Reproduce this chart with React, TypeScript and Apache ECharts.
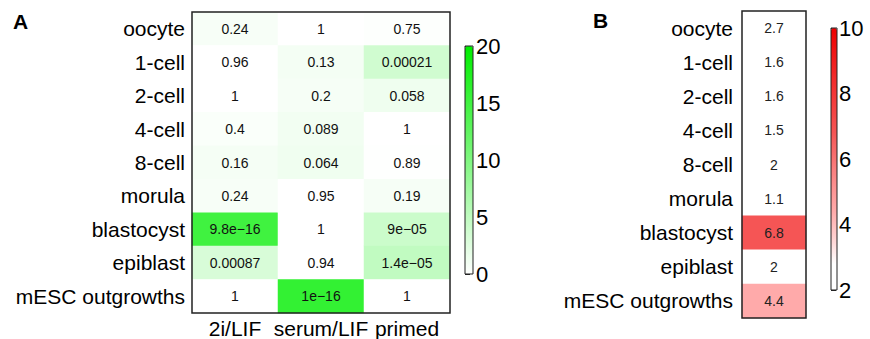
import React, { useEffect, useRef } from "react";
import * as echarts from "echarts";

const stages = ["oocyte", "1-cell", "2-cell", "4-cell", "8-cell", "morula", "blastocyst", "epiblast", "mESC outgrowths"];
const conditions = ["2i/LIF", "serum/LIF", "primed"];
const p2iLIF = [0.24, 0.96, 1, 0.4, 0.16, 0.24, 9.8e-16, 0.00087, 1];
const pSerumLIF = [1, 0.13, 0.2, 0.089, 0.064, 0.95, 1, 0.94, 1e-16];
const pPrimed = [0.75, 0.00021, 0.058, 1, 0.89, 0.19, 9e-05, 1.4e-05, 1];
const foldB = [2.7, 1.6, 1.6, 1.5, 2, 1.1, 6.8, 2, 4.4];
const scaleATicks = { min: 0, max: 20, interval: 5 };
const scaleBTicks = { min: 2, max: 10, interval: 2 };

const FONT = "Liberation Sans, Arial, sans-serif";

function fmtP(p: number): string {
  const s = Number(p.toPrecision(2));
  const expStr = s.toExponential();
  const [mant, ex] = expStr.split("e");
  const e = parseInt(ex, 10);
  const sci = mant + "e" + (e < 0 ? "-" : "+") + String(Math.abs(e)).padStart(2, "0");
  const sig = mant.replace(".", "").length;
  const dec = Math.max(0, sig - 1 - e);
  const fixed = s.toFixed(dec);
  const out = fixed.length <= sci.length ? fixed : sci;
  return out.replace(/-/g, "\u2212");
}

export default function App() {
  const ref = useRef<HTMLDivElement>(null);
  useEffect(() => {
    document.body.style.margin = "0";
    const chart = echarts.init(ref.current!, null, { renderer: "svg" });
    const cols = [p2iLIF, pSerumLIF, pPrimed];
    const dataA: any[] = [];
    cols.forEach((arr, xi) => {
      arr.forEach((p, yi) => {
        dataA.push([xi, yi, -Math.log10(p), p]);
      });
    });
    const dataB = foldB.map((v, yi) => [0, yi, v]);
    const catLabel = { fontSize: 21, color: "#000", fontFamily: FONT, interval: 0 };
    const option: any = {
      animation: false,
      graphic: [
        { type: "text", left: 13, top: 11, style: { text: "A", font: "bold 21px " + FONT, fill: "#000" } },
        { type: "text", left: 593, top: 10, style: { text: "B", font: "bold 21px " + FONT, fill: "#000" } },
      ],
      grid: [
        { left: 192, top: 12, width: 258, height: 301, show: true, borderColor: "#222", borderWidth: 1.5, backgroundColor: "transparent", z: 10 },
        { left: 742, top: 11, width: 64, height: 307, show: true, borderColor: "#222", borderWidth: 1.5, backgroundColor: "transparent", z: 10 },
        { left: 465, top: 46, width: 8, height: 228, show: true, borderColor: "#222", borderWidth: 1, backgroundColor: "transparent", z: 10 },
        { left: 831, top: 28, width: 6, height: 262, show: true, borderColor: "#222", borderWidth: 1, backgroundColor: "transparent", z: 10 },
      ],
      xAxis: [
        { gridIndex: 0, type: "category", data: conditions, position: "bottom", axisLine: { show: false }, axisTick: { show: false }, splitLine: { show: false }, axisLabel: { ...catLabel, margin: 5 } },
        { gridIndex: 1, type: "category", data: ["fold"], show: false },
        { gridIndex: 2, type: "value", show: false },
        { gridIndex: 3, type: "value", show: false },
      ],
      yAxis: [
        { gridIndex: 0, type: "category", data: stages, inverse: true, axisLine: { show: false }, axisTick: { show: false }, splitLine: { show: false }, axisLabel: { ...catLabel, margin: 7 } },
        { gridIndex: 1, type: "category", data: stages, inverse: true, axisLine: { show: false }, axisTick: { show: false }, splitLine: { show: false }, axisLabel: { ...catLabel, margin: 9 } },
        {
          gridIndex: 2, type: "value", ...scaleATicks, position: "right",
          axisLine: { show: false }, splitLine: { show: false },
          axisTick: { show: true, length: 5, lineStyle: { color: "#222", width: 1 } },
          axisLabel: { fontSize: 22, color: "#000", fontFamily: FONT, margin: 3 },
        },
        {
          gridIndex: 3, type: "value", ...scaleBTicks, position: "right",
          axisLine: { show: false }, splitLine: { show: false },
          axisTick: { show: true, length: 5, lineStyle: { color: "#222", width: 1 } },
          axisLabel: { fontSize: 22, color: "#000", fontFamily: FONT, margin: 2 },
        },
      ],
      visualMap: [
        {
          type: "continuous", seriesIndex: 0, dimension: 2, min: 0, max: 20,
          inRange: { color: ["#ffffff", "#00ee00"] },
          left: 465, top: 46, itemWidth: 8, itemHeight: 228, padding: 0,
          calculable: false, hoverLink: false, orient: "vertical", showLabel: false, z: 4,
        },
        {
          type: "continuous", seriesIndex: 1, dimension: 2, min: 2, max: 10,
          inRange: { color: ["#ffffff", "#ffffff", "#ffd0d0", "#ffaaaa", "#fc8f8f", "#f87272", "#f55555", "#f44040", "#f22c2c", "#f01616", "#ee0000"] },
          left: 831, top: 28, itemWidth: 6, itemHeight: 262, padding: 0,
          calculable: false, hoverLink: false, orient: "vertical", showLabel: false, z: 4,
        },
      ],
      series: [
        {
          type: "heatmap", xAxisIndex: 0, yAxisIndex: 0, data: dataA,
          emphasis: { disabled: true },
          label: { show: true, fontSize: 14, color: "#111", fontFamily: FONT, formatter: (pr: any) => fmtP(pr.data[3]) },
        },
        {
          type: "heatmap", xAxisIndex: 1, yAxisIndex: 1, data: dataB,
          emphasis: { disabled: true },
          label: { show: true, fontSize: 14, color: "#222", fontFamily: FONT, formatter: (pr: any) => String(pr.data[2]) },
        },
      ],
    };
    chart.setOption(option);
    return () => chart.dispose();
  }, []);
  return <div ref={ref} style={{ width: 870, height: 339 }} />;
}
